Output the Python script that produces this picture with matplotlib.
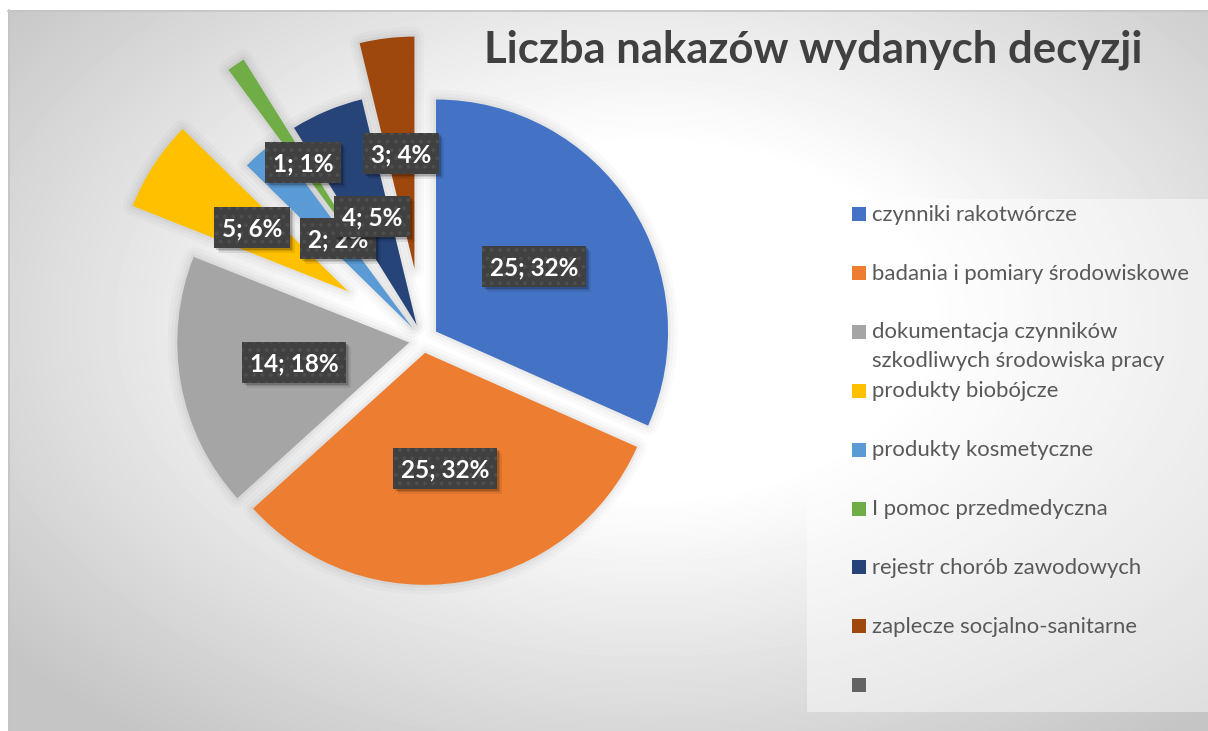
import numpy as np
import matplotlib.pyplot as plt
from matplotlib.patches import Rectangle, Wedge

# ----------------------------------------------------------------------
# DATA
# ----------------------------------------------------------------------
categories = [
    "czynniki rakotwórcze",
    "badania i pomiary środowiskowe",
    "dokumentacja czynników\nszkodliwych środowiska pracy",
    "produkty biobójcze",
    "produkty kosmetyczne",
    "I pomoc przedmedyczna",
    "rejestr chorób zawodowych",
    "zaplecze socjalno-sanitarne",
    "",
]
values = [25, 25, 14, 5, 2, 1, 4, 3]
percents = [32, 32, 18, 6, 2, 1, 5, 4]
colors = ["#4472C4", "#ED7D31", "#A5A5A5", "#FFC000", "#5B9BD5",
          "#70AD47", "#264478", "#9E480E", "#636363"]
title = "Liczba nakazów wydanych decyzji"

# ----------------------------------------------------------------------
# LAYOUT (pixels, y measured from top)
# ----------------------------------------------------------------------
W, H = 1208, 731
CX, CY = 423, 340
R = 232
EXPLODE = [0.067, 0.056, 0.06, 0.384, 0.069, 0.435, 0.071, 0.31]
LABEL_XY = [(534, 266), (445, 468), (294, 362), (252, 227),
            (338, 238), (303, 162), (372, 216), (401, 153)]
FONT = "Lato"

fig = plt.figure(figsize=(W / 100, H / 100), dpi=100)
renderer = fig.canvas.get_renderer()
plt.rcParams["hatch.linewidth"] = 1.5

# background radial gradient
bg = fig.add_axes([0, 0, 1, 1])
bg.set_xlim(0, W)
bg.set_ylim(H, 0)
bg.axis("off")
yy, xx = np.mgrid[0:H, 0:W]
dist = np.sqrt(((xx - 650) / 620.0) ** 2 + ((yy - 320) / 390.0) ** 2)
t = np.clip((dist - 0.45) / 0.9, 0, 1)
shade = 1 - t * (1 - 0.77)
shade[:10, :] = 1.0
shade[:, :8] = 1.0
bg.imshow(shade, cmap="gray", vmin=0, vmax=1, extent=(0, W, H, 0), aspect="auto", interpolation="bilinear")
bg.plot([8, W], [10.5, 10.5], color="#c4c4c4", lw=1.2)
bg.plot([8.5, 8.5], [10, H], color="#c4c4c4", lw=1.2)

ax = fig.add_axes([0, 0, 1, 1])
ax.patch.set_alpha(0)

wedges, _ = ax.pie(values, explode=[e * R for e in EXPLODE], colors=colors[:len(values)],
                   startangle=90, counterclock=False, radius=R, center=(CX, H - CY),
                   wedgeprops=dict(linewidth=0))
# soft halo round every slice
for w in wedges:
    w.set_zorder(2)
    for lw, a in [(14, 0.02), (9, 0.025), (4, 0.035)]:
        s = Wedge(w.center, w.r, w.theta1, w.theta2, facecolor="none", edgecolor="black",
                  lw=lw, alpha=a, joinstyle="round", zorder=1)
        ax.add_patch(s)

ax.set_xlim(0, W)
ax.set_ylim(0, H)
ax.set_aspect("equal")
ax.axis("off")

# data labels: one font size, fitted so "25; 32%" is ~89 px wide
probe = ax.text(0, 0, "25; 32%", fontsize=18, fontweight="bold", family=FONT)
lab_fs = 18 * 89 / probe.get_window_extent(renderer).width
probe.remove()

for i, (v, p) in enumerate(zip(values, percents)):
    lx, ly = LABEL_XY[i]
    z = 10 + 3 * i
    txt = ax.text(lx, H - ly - 9, f"{v}; {p}%", ha="center", va="baseline", color="white",
                  fontsize=lab_fs, fontweight="bold", family=FONT, zorder=z + 2)
    bw = txt.get_window_extent(renderer).width + 15
    x0, y0 = lx - bw / 2, H - ly - 20.5
    for k, a in [(5, 0.08), (3.5, 0.12), (2, 0.15)]:
        ax.add_patch(Rectangle((x0 + k, y0 - k), bw, 41, facecolor="black", alpha=a, lw=0, zorder=z))
    ax.add_patch(Rectangle((x0, y0), bw, 41, facecolor="#404040", edgecolor="#4e4e4e",
                           lw=0, hatch="..", zorder=z + 1))

# title
tt = ax.text(813, H - 62.7, title, ha="center", va="baseline", fontsize=34,
             fontweight="bold", color="#404040", family=FONT)
tw = tt.get_window_extent(renderer).width
tt.set_fontsize(34 * 659 / tw)

# legend
ax.add_patch(Rectangle((807, H - 712), W - 807, 513, facecolor="white", alpha=0.45, lw=0, zorder=3))
probe = ax.text(0, 0, "badania i pomiary środowiskowe", fontsize=14, family=FONT)
lw_px = probe.get_window_extent(renderer).width
probe.remove()
leg_fs = 14 * 319 / lw_px
for i, (name, c) in enumerate(zip(categories, colors)):
    yc = 214 + i * 58.9
    ax.add_patch(Rectangle((852, H - yc - 7), 14, 14, facecolor=c, lw=0, zorder=4))
    for j, line in enumerate(name.split("\n")):
        ax.text(871.5, H - (yc + 6.7 + j * 28.3), line, fontsize=leg_fs, family=FONT,
                color="#595959", va="baseline", ha="left", zorder=4)

fig.savefig("out.png", dpi=100)
